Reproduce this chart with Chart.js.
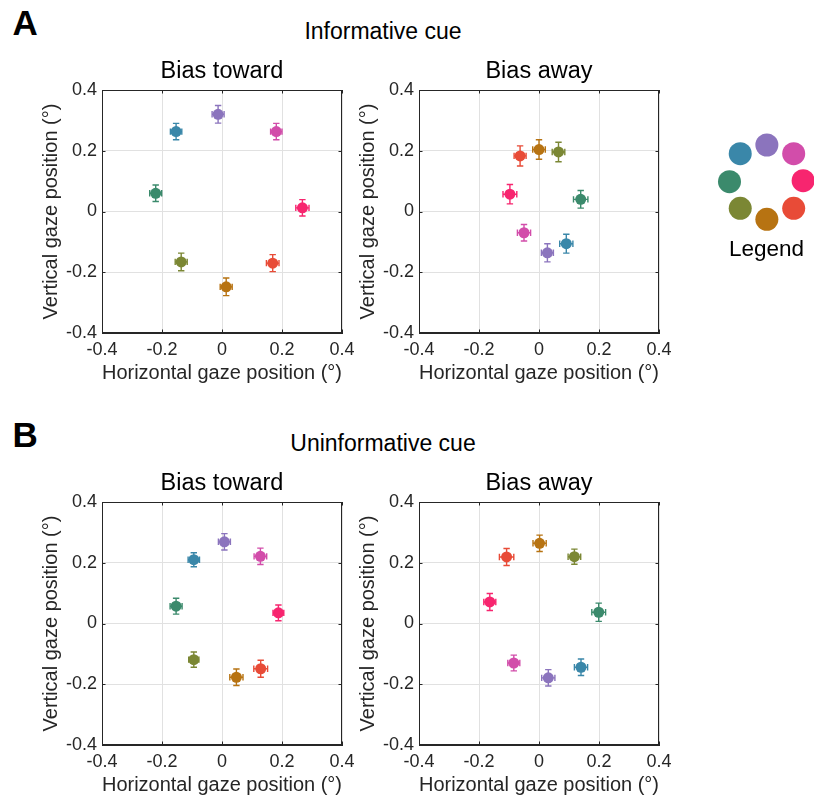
<!DOCTYPE html>
<html>
<head>
<meta charset="utf-8">
<script src="https://cdn.jsdelivr.net/npm/chart.js@4.4.1/dist/chart.umd.min.js"></script>
<style>
html,body{margin:0;padding:0;background:#fff;overflow:hidden;}
#wrap{position:relative;width:814px;height:800px;overflow:hidden;font-family:"Liberation Sans",Arial,sans-serif;}
.lbl{position:absolute;white-space:nowrap;color:#000;}
.ctr{text-align:center;width:400px;}
canvas{position:absolute;}
</style>
</head>
<body>
<div id="wrap">
  <div class="lbl" style="left:12.5px;top:5.4px;font-size:35px;line-height:35px;font-weight:bold;">A</div>
  <div class="lbl ctr" style="left:183px;top:20px;font-size:23px;line-height:23px;">Informative cue</div>
  <div class="lbl" style="left:12.5px;top:417.4px;font-size:35px;line-height:35px;font-weight:bold;">B</div>
  <div class="lbl ctr" style="left:183px;top:431.5px;font-size:23px;line-height:23px;">Uninformative cue</div>
  <canvas id="a1" width="330" height="343"></canvas>
  <canvas id="a2" width="330" height="343"></canvas>
  <canvas id="b1" width="330" height="343"></canvas>
  <canvas id="b2" width="330" height="343"></canvas>
  <canvas id="leg" width="123" height="143"></canvas>
</div>
<script>
// ---- data ----
const conditionNames = ['purple', 'magenta', 'rose', 'red', 'orange', 'olive', 'green', 'blue'];
const pointColors = ['#8B74BD', '#D24DAA', '#F7256F', '#E84B37', '#B77312', '#7B8734', '#3B8A6C', '#3A87A9'];
const axisTicks = [-0.4, -0.2, 0, 0.2, 0.4];
const tickLabels = ['-0.4', '-0.2', '0', '0.2', '0.4'];

// A: Informative cue, bias toward
const infTowardX    = [-0.013, 0.181, 0.268, 0.169, 0.014, -0.136, -0.221, -0.153];
const infTowardY    = [0.320, 0.263, 0.012, -0.170, -0.248, -0.166, 0.060, 0.263];
const infTowardXErr = [0.020, 0.019, 0.022, 0.021, 0.020, 0.020, 0.020, 0.019];
const infTowardYErr = [0.029, 0.027, 0.027, 0.028, 0.029, 0.029, 0.027, 0.027];

// A: Informative cue, bias away
const infAwayX    = [0.028, -0.050, -0.097, -0.063, 0.000, 0.065, 0.139, 0.091];
const infAwayY    = [-0.136, -0.070, 0.057, 0.183, 0.204, 0.196, 0.040, -0.106];
const infAwayXErr = [0.020, 0.022, 0.023, 0.020, 0.021, 0.021, 0.024, 0.022];
const infAwayYErr = [0.030, 0.027, 0.032, 0.033, 0.032, 0.032, 0.029, 0.031];

// B: Uninformative cue, bias toward
const uninfTowardX    = [0.008, 0.128, 0.188, 0.129, 0.048, -0.094, -0.153, -0.094];
const uninfTowardY    = [0.269, 0.221, 0.035, -0.149, -0.177, -0.119, 0.057, 0.210];
const uninfTowardXErr = [0.020, 0.021, 0.018, 0.023, 0.022, 0.017, 0.020, 0.019];
const uninfTowardYErr = [0.027, 0.027, 0.026, 0.028, 0.027, 0.025, 0.026, 0.023];

// B: Uninformative cue, bias away
const uninfAwayX    = [0.031, -0.084, -0.164, -0.108, 0.002, 0.118, 0.199, 0.140];
const uninfAwayY    = [-0.179, -0.130, 0.071, 0.219, 0.264, 0.220, 0.037, -0.144];
const uninfAwayXErr = [0.022, 0.020, 0.020, 0.024, 0.022, 0.021, 0.023, 0.022];
const uninfAwayYErr = [0.027, 0.026, 0.028, 0.028, 0.027, 0.025, 0.030, 0.027];

// Legend ring (direction of each condition)
const legendX = [0.01, 0.735, 0.99, 0.735, 0.01, -0.71, -1.0, -0.71];
const legendY = [1.0, 0.765, 0.035, -0.71, -1.01, -0.71, 0.01, 0.765];

// ---- styling ----
const FONT = "'Liberation Sans', Arial, sans-serif";
const AXIS_COLOR = '#262626';

const framePlugin = {
  id: 'frame',
  beforeDatasetsDraw(chart) {
    const {ctx, chartArea: a, scales} = chart;
    ctx.save();
    ctx.strokeStyle = AXIS_COLOR;
    ctx.lineWidth = 1;
    ctx.strokeRect(a.left + 0.5, a.top + 0.5, a.right - a.left - 1, a.bottom - a.top - 1);
    const L = 3.5;
    ctx.beginPath();
    axisTicks.forEach(v => {
      const px = Math.round(scales.x.getPixelForValue(v)) + 0.5;
      ctx.moveTo(px, a.bottom); ctx.lineTo(px, a.bottom - L);
      ctx.moveTo(px, a.top); ctx.lineTo(px, a.top + L);
      const py = Math.round(scales.y.getPixelForValue(v)) + 0.5;
      ctx.moveTo(a.left, py); ctx.lineTo(a.left + L, py);
      ctx.moveTo(a.right, py); ctx.lineTo(a.right - L, py);
    });
    ctx.stroke();
    ctx.restore();
  }
};

const errorBarPlugin = {
  id: 'errorBars',
  beforeDatasetsDraw(chart) {
    const {ctx, scales} = chart;
    const ds = chart.data.datasets[0];
    if (!ds.xErr) return;
    ctx.save();
    ctx.lineWidth = 1.4;
    ds.data.forEach((p, i) => {
      ctx.strokeStyle = pointColors[i];
      const cx = scales.x.getPixelForValue(p.x);
      const cy = scales.y.getPixelForValue(p.y);
      const x0 = scales.x.getPixelForValue(p.x - ds.xErr[i]);
      const x1 = scales.x.getPixelForValue(p.x + ds.xErr[i]);
      const y0 = scales.y.getPixelForValue(p.y - ds.yErr[i]);
      const y1 = scales.y.getPixelForValue(p.y + ds.yErr[i]);
      const c = 3.2;
      ctx.beginPath();
      ctx.moveTo(cx, y0); ctx.lineTo(cx, y1);
      ctx.moveTo(cx - c, y0); ctx.lineTo(cx + c, y0);
      ctx.moveTo(cx - c, y1); ctx.lineTo(cx + c, y1);
      ctx.moveTo(x0, cy); ctx.lineTo(x1, cy);
      ctx.moveTo(x0, cy - c); ctx.lineTo(x0, cy + c);
      ctx.moveTo(x1, cy - c); ctx.lineTo(x1, cy + c);
      ctx.stroke();
    });
    ctx.restore();
  }
};

function axisOptions(titleText, isX) {
  return {
    type: 'linear',
    min: -0.4,
    max: 0.4,
    afterBuildTicks: s => { s.ticks = axisTicks.map(v => ({value: v})); },
    afterFit: s => { if (isX) { s.height = 52; } else { s.width = 63; } },
    ticks: {
      callback: (v, i) => tickLabels[i],
      font: {family: FONT, size: 18},
      color: AXIS_COLOR,
      padding: isX ? 6 : 5,
      maxRotation: 0,
      autoSkip: false
    },
    grid: {color: '#e1e1e1', lineWidth: 1, drawTicks: false},
    border: {color: AXIS_COLOR, width: 1},
    title: {
      display: true,
      text: titleText,
      font: {family: FONT, size: 20},
      color: AXIS_COLOR,
      padding: 0
    }
  };
}

function makePanel(id, left, top, titleText, xs, ys, xe, ye) {
  const cv = document.getElementById(id);
  cv.style.left = left + 'px';
  cv.style.top = top + 'px';
  return new Chart(cv, {
    type: 'scatter',
    data: {
      datasets: [{
        data: xs.map((x, i) => ({x: x, y: ys[i]})),
        xErr: xe,
        yErr: ye,
        backgroundColor: pointColors,
        borderWidth: 0,
        pointRadius: 5.5,
        pointHoverRadius: 5.5
      }]
    },
    options: {
      responsive: false,
      animation: false,
      devicePixelRatio: 1,
      events: [],
      layout: {padding: {left: 7, right: 20, top: 12.8, bottom: 3}},
      plugins: {
        legend: {display: false},
        tooltip: {enabled: false},
        title: {
          display: true,
          text: titleText,
          fullSize: false,
          font: {family: FONT, size: 23.5, weight: 'normal'},
          color: '#000',
          padding: {top: 0, bottom: 4}
        }
      },
      scales: {
        x: axisOptions('Horizontal gaze position (°)', true),
        y: axisOptions('Vertical gaze position (°)', false)
      }
    },
    plugins: [framePlugin, errorBarPlugin]
  });
}

makePanel('a1', 32, 45, 'Bias toward', infTowardX, infTowardY, infTowardXErr, infTowardYErr);
makePanel('a2', 349, 45, 'Bias away', infAwayX, infAwayY, infAwayXErr, infAwayYErr);
makePanel('b1', 32, 457, 'Bias toward', uninfTowardX, uninfTowardY, uninfTowardXErr, uninfTowardYErr);
makePanel('b2', 349, 457, 'Bias away', uninfAwayX, uninfAwayY, uninfAwayXErr, uninfAwayYErr);

// Legend ring
(function () {
  const cv = document.getElementById('leg');
  cv.style.left = '705px';
  cv.style.top = '120px';
  new Chart(cv, {
    type: 'scatter',
    data: {
      labels: conditionNames,
      datasets: [{
        data: legendX.map((x, i) => ({x: x, y: legendY[i]})),
        backgroundColor: pointColors,
        borderWidth: 0,
        pointRadius: 11.5,
        pointHoverRadius: 11.5,
        clip: false
      }]
    },
    options: {
      responsive: false,
      animation: false,
      devicePixelRatio: 1,
      events: [],
      layout: {padding: 0, autoPadding: false},
      plugins: {
        legend: {display: false},
        tooltip: {enabled: false},
        title: {
          display: true,
          position: 'bottom',
          text: 'Legend',
          font: {family: FONT, size: 22.5, weight: 'normal'},
          color: '#000',
          padding: {top: 11.5, bottom: 0}
        }
      },
      scales: {
        x: {type: 'linear', display: false, min: -1.662, max: 1.662},
        y: {type: 'linear', display: false, min: -1.149, max: 1.676}
      }
    }
  });
})();
</script>
</body>
</html>
